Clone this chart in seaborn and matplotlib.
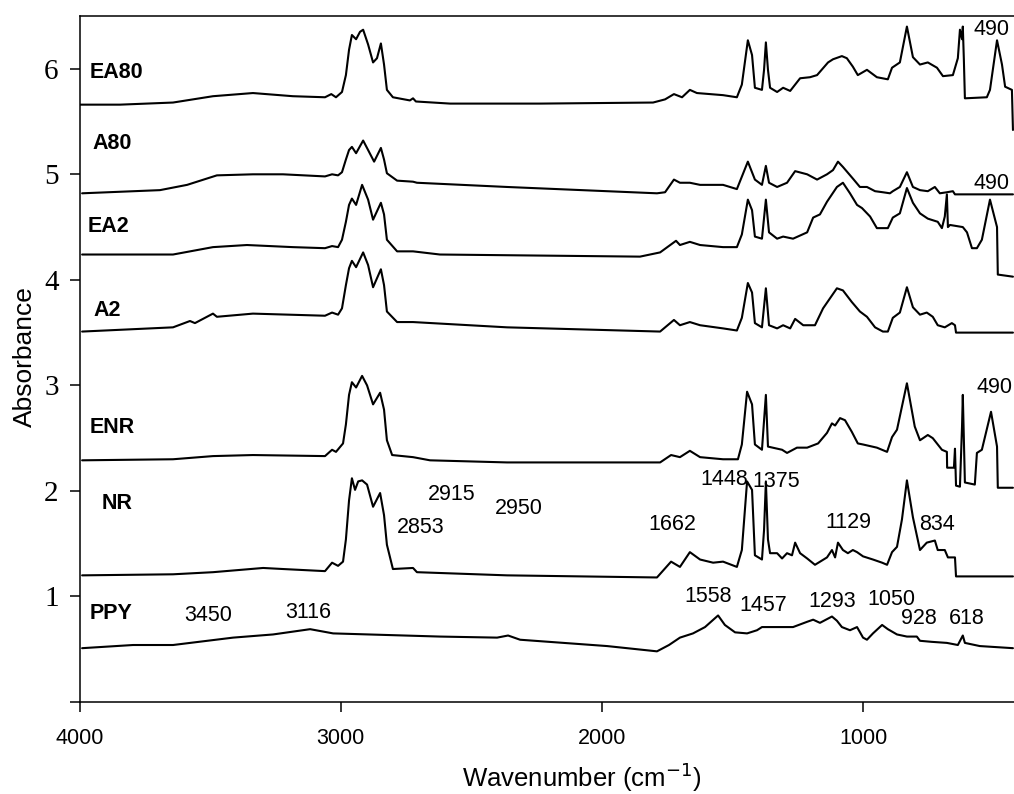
import numpy as np
import pandas as pd
import matplotlib
matplotlib.use("Agg")
import matplotlib.pyplot as plt
import seaborn as sns

# ---------------- data (wavenumber cm-1, absorbance) ----------------
ea80_wn = [4000, 3845, 3642, 3489, 3336, 3183, 3060, 3036, 3018, 2995, 2980, 2968, 2957, 2941, 2926, 2914,
           2895, 2876, 2861, 2846, 2834, 2823, 2800, 2735, 2723, 2712, 2581, 2237, 1804, 1758, 1724, 1693,
           1663, 1636, 1536, 1483, 1464, 1441, 1425, 1414, 1387, 1379, 1372, 1364, 1356, 1329, 1306, 1279,
           1241, 1203, 1176, 1134, 1115, 1081, 1062, 1039, 1020, 985, 947, 905, 889, 859, 832, 809, 782,
           752, 717, 694, 656, 637, 629, 621, 618, 614, 610, 526, 514, 487, 468, 456, 430, 426]
ea80_ab = [5.66, 5.66, 5.68, 5.74, 5.77, 5.74, 5.73, 5.76, 5.73, 5.78, 5.94, 6.18, 6.32, 6.28, 6.35, 6.37,
           6.23, 6.06, 6.10, 6.24, 6.04, 5.80, 5.73, 5.70, 5.72, 5.69, 5.67, 5.67, 5.68, 5.71, 5.76, 5.73,
           5.80, 5.77, 5.75, 5.73, 5.85, 6.27, 6.13, 5.82, 5.80, 5.99, 6.25, 5.99, 5.82, 5.78, 5.82, 5.79,
           5.91, 5.92, 5.94, 6.06, 6.09, 6.12, 6.10, 6.02, 5.94, 5.99, 5.92, 5.90, 6.01, 6.06, 6.40, 6.11, 6.04,
           6.06, 6.01, 5.93, 5.94, 6.10, 6.37, 6.28, 6.40, 6.09, 5.72, 5.73, 5.80, 6.27, 6.04, 5.83, 5.80, 5.42]

a80_wn = [3990, 3692, 3588, 3474, 3336, 3221, 3060, 3033, 3010, 2995, 2980, 2968, 2957, 2941, 2914, 2895,
          2872, 2846, 2834, 2823, 2784, 2723, 2708, 2363, 1789, 1758, 1724, 1701, 1663, 1624, 1536, 1483,
          1441, 1414, 1387, 1372, 1360, 1329, 1291, 1260, 1214, 1176, 1138, 1115, 1096, 1077, 1039, 1012,
          985, 954, 924, 897, 886, 859, 832, 809, 782, 752, 725, 706, 679, 656, 648, 426]
a80_ab = [4.82, 4.85, 4.90, 4.99, 5.00, 5.00, 4.98, 5.00, 4.99, 5.02, 5.14, 5.23, 5.26, 5.20, 5.32, 5.23,
          5.12, 5.25, 5.14, 5.01, 4.94, 4.93, 4.92, 4.88, 4.82, 4.83, 4.95, 4.92, 4.92, 4.90, 4.90, 4.86,
          5.12, 4.95, 4.90, 5.08, 4.92, 4.88, 4.92, 5.03, 5.00, 4.95, 5.00, 5.04, 5.12, 5.07, 4.96, 4.88,
          4.88, 4.84, 4.83, 4.82, 4.84, 4.88, 5.02, 4.88, 4.85, 4.84, 4.88, 4.82, 4.83, 4.84, 4.81, 4.81]

ea2_wn = [3990, 3642, 3489, 3359, 3183, 3060, 3033, 3010, 2995, 2980, 2968, 2957, 2941, 2918, 2895, 2876,
          2846, 2834, 2823, 2784, 2723, 2620, 1854, 1777, 1716, 1701, 1663, 1624, 1536, 1483, 1464, 1441,
          1425, 1414, 1387, 1372, 1360, 1329, 1306, 1268, 1214, 1191, 1165, 1138, 1100, 1077, 1050, 1023,
          1004, 973, 947, 905, 886, 859, 832, 809, 782, 752, 714, 698, 687, 679, 675, 667, 618, 602, 583,
          564, 545, 514, 487, 484, 426]
ea2_ab = [4.24, 4.24, 4.31, 4.33, 4.31, 4.30, 4.32, 4.31, 4.38, 4.55, 4.71, 4.77, 4.71, 4.90, 4.76, 4.57,
          4.73, 4.62, 4.38, 4.27, 4.27, 4.24, 4.22, 4.26, 4.37, 4.33, 4.36, 4.33, 4.31, 4.31, 4.43, 4.76,
          4.66, 4.41, 4.39, 4.76, 4.45, 4.39, 4.41, 4.39, 4.45, 4.59, 4.62, 4.74, 4.88, 4.92, 4.82, 4.71,
          4.68, 4.60, 4.49, 4.49, 4.59, 4.63, 4.87, 4.73, 4.63, 4.58, 4.55, 4.49, 4.60, 4.81, 4.50, 4.52,
          4.50, 4.45, 4.30, 4.30, 4.38, 4.76, 4.50, 4.05, 4.03]

a2_wn = [3990, 3642, 3577, 3558, 3489, 3474, 3336, 3060, 3033, 3010, 2995, 2980, 2968, 2957, 2941, 2914,
         2895, 2876, 2846, 2834, 2823, 2784, 2723, 2363, 1777, 1724, 1701, 1663, 1624, 1536, 1483, 1464,
         1441, 1425, 1414, 1387, 1372, 1360, 1329, 1306, 1279, 1260, 1229, 1184, 1153, 1100, 1077, 1043,
         1012, 985, 954, 924, 905, 886, 859, 832, 809, 782, 756, 733, 714, 687, 660, 648, 644, 426]
a2_ab = [3.51, 3.55, 3.61, 3.59, 3.68, 3.65, 3.68, 3.66, 3.69, 3.67, 3.73, 3.95, 4.11, 4.18, 4.12, 4.26,
         4.14, 3.93, 4.10, 3.95, 3.70, 3.60, 3.60, 3.55, 3.51, 3.62, 3.57, 3.60, 3.57, 3.54, 3.52, 3.64,
         3.97, 3.88, 3.59, 3.55, 3.92, 3.57, 3.54, 3.57, 3.54, 3.63, 3.57, 3.57, 3.73, 3.92, 3.90, 3.79,
         3.70, 3.65, 3.55, 3.51, 3.51, 3.64, 3.69, 3.93, 3.74, 3.67, 3.69, 3.65, 3.57, 3.55, 3.59, 3.57,
         3.50, 3.50]

enr_wn = [3990, 3642, 3489, 3336, 3060, 3033, 3018, 2991, 2980, 2968, 2957, 2941, 2918, 2899, 2876, 2849,
          2834, 2823, 2803, 2723, 2658, 2363, 1777, 1735, 1701, 1663, 1624, 1536, 1479, 1464, 1444, 1425,
          1414, 1387, 1372, 1364, 1310, 1291, 1253, 1214, 1172, 1138, 1119, 1107, 1088, 1069, 1043, 1020,
          1000, 947, 908, 889, 870, 832, 802, 782, 752, 733, 698, 679, 678, 652, 648, 644, 629, 621, 618,
          610, 572, 564, 545, 510, 487, 484, 426]
enr_ab = [2.29, 2.30, 2.33, 2.34, 2.33, 2.39, 2.37, 2.45, 2.63, 2.91, 3.03, 2.98, 3.09, 3.00, 2.82, 2.93,
          2.77, 2.48, 2.34, 2.32, 2.29, 2.27, 2.27, 2.34, 2.32, 2.38, 2.32, 2.30, 2.30, 2.44, 2.94, 2.82,
          2.44, 2.39, 2.91, 2.42, 2.39, 2.36, 2.41, 2.41, 2.45, 2.55, 2.64, 2.62, 2.69, 2.67, 2.56, 2.45,
          2.44, 2.41, 2.37, 2.51, 2.58, 3.02, 2.61, 2.48, 2.53, 2.50, 2.39, 2.37, 2.22, 2.22, 2.40, 2.05,
          2.04, 2.61, 2.91, 2.08, 2.06, 2.36, 2.39, 2.75, 2.42, 2.03, 2.03]

nr_wn = [3990, 3642, 3489, 3297, 3221, 3060, 3033, 3010, 2991, 2980, 2968, 2957, 2945, 2933, 2918, 2899,
         2876, 2849, 2834, 2823, 2800, 2723, 2708, 2363, 1789, 1735, 1701, 1663, 1624, 1574, 1536, 1483,
         1464, 1444, 1425, 1414, 1387, 1379, 1372, 1364, 1356, 1329, 1310, 1291, 1272, 1260, 1241, 1214,
         1184, 1138, 1119, 1107, 1096, 1077, 1058, 1039, 1023, 1000, 962, 927, 908, 889, 870, 851, 832,
         809, 782, 756, 725, 714, 687, 675, 648, 644, 426]
nr_ab = [1.20, 1.21, 1.23, 1.27, 1.26, 1.24, 1.32, 1.29, 1.33, 1.54, 1.91, 2.12, 2.01, 2.09, 2.10, 2.06,
         1.85, 1.98, 1.77, 1.49, 1.26, 1.27, 1.23, 1.20, 1.18, 1.33, 1.28, 1.42, 1.35, 1.32, 1.33, 1.28,
         1.44, 2.09, 2.01, 1.39, 1.35, 1.63, 2.09, 1.54, 1.41, 1.41, 1.36, 1.41, 1.39, 1.51, 1.41, 1.36,
         1.30, 1.37, 1.44, 1.37, 1.51, 1.44, 1.41, 1.44, 1.42, 1.38, 1.35, 1.32, 1.30, 1.42, 1.47, 1.73, 2.10,
         1.75, 1.44, 1.51, 1.53, 1.44, 1.44, 1.37, 1.37, 1.19, 1.19]

ppy_wn = [3990, 3795, 3642, 3412, 3259, 3117, 3029, 2620, 2401, 2359, 2313, 1980, 1789, 1743, 1701, 1651,
          1605, 1555, 1529, 1490, 1444, 1406, 1387, 1329, 1268, 1214, 1191, 1165, 1119, 1100, 1081, 1050,
          1023, 1000, 985, 962, 927, 905, 870, 832, 794, 782, 737, 679, 637, 618, 610, 553, 426]
ppy_ab = [0.51, 0.54, 0.54, 0.61, 0.64, 0.69, 0.65, 0.62, 0.61, 0.63, 0.59, 0.53, 0.48, 0.54, 0.61, 0.65,
          0.71, 0.82, 0.73, 0.66, 0.65, 0.68, 0.71, 0.71, 0.71, 0.76, 0.78, 0.75, 0.81, 0.77, 0.71, 0.68,
          0.71, 0.61, 0.59, 0.65, 0.73, 0.69, 0.64, 0.62, 0.62, 0.58, 0.57, 0.56, 0.54, 0.63, 0.56, 0.53, 0.51]

sample_names = ["EA80", "A80", "EA2", "A2", "ENR", "NR", "PPY"]
sample_label_x = [3960, 3952, 3967, 3948, 3960, 3914, 3960]
sample_label_y = [5.96, 5.29, 4.51, 3.71, 2.60, 1.88, 0.84]

peak_texts = ["490", "490", "490", "2853", "2915", "2950", "1662", "1448", "1375", "1129", "834",
              "3450", "3116", "1558", "1457", "1293", "1050", "928", "618"]
peak_x = [510, 510, 495, 2692, 2574, 2317, 1731, 1533, 1333, 1058, 717,
          3508, 3125, 1594, 1383, 1119, 893, 786, 602]
peak_y = [6.37, 4.91, 2.98, 1.65, 1.97, 1.83, 1.68, 2.11, 2.09, 1.70, 1.68,
          0.82, 0.85, 1.00, 0.91, 0.95, 0.97, 0.79, 0.79]

x_ticks = [4000, 3000, 2000, 1000]
y_ticks = [0, 1, 2, 3, 4, 5, 6]
y_tick_labels = ["", "1", "2", "3", "4", "5", "6"]

# ---------------- plotting ----------------
sns.set_theme(style="ticks")
plt.rcParams['font.family'] = ['Liberation Sans', 'DejaVu Sans']
plt.rcParams['axes.linewidth'] = 1.1
plt.rcParams['text.color'] = 'black'
plt.rcParams['axes.labelcolor'] = 'black'
plt.rcParams['xtick.color'] = 'black'
plt.rcParams['ytick.color'] = 'black'
plt.rcParams['axes.edgecolor'] = 'black'

traces = {
    "EA80": (ea80_wn, ea80_ab), "A80": (a80_wn, a80_ab), "EA2": (ea2_wn, ea2_ab),
    "A2": (a2_wn, a2_ab), "ENR": (enr_wn, enr_ab), "NR": (nr_wn, nr_ab), "PPY": (ppy_wn, ppy_ab),
}

fig = plt.figure(figsize=(10.14, 7.94), dpi=100)
fig.patch.set_facecolor("white")
ax = fig.add_axes([79.5 / 1014, (794 - 702) / 794, (1014 - 79.5) / 1014, (702 - 16) / 794])

for name in sample_names:
    wn, ab = traces[name]
    df = pd.DataFrame({"wn": wn, "ab": ab})
    sns.lineplot(data=df, x="wn", y="ab", ax=ax, color="black", linewidth=1.5,
                 estimator=None, sort=False, legend=False)

ax.set_xlim(4000, 422)
ax.set_ylim(0, 6.5)
ax.set_xticks(x_ticks)
ax.set_xticklabels([str(t) for t in x_ticks])
ax.set_yticks(y_ticks)
ax.set_yticklabels(y_tick_labels)
for lbl in ax.get_yticklabels():
    lbl.set_fontfamily("Liberation Serif")
    lbl.set_fontsize(21)
ax.tick_params(axis="both", direction="out", length=7, width=1.1, color="black", labelcolor="black")
ax.tick_params(axis="x", pad=12, labelsize=15.5)
ax.tick_params(axis="y", pad=8)
ax.spines["right"].set_visible(False)
for s in ["left", "top", "bottom"]:
    ax.spines[s].set_color("black")

ax.set_xlabel("Wavenumber (cm$^{-1}$)", fontsize=18.5, color="black")
ax.xaxis.label.set_va("center")
ax.xaxis.set_label_coords((582 - 79.5) / 934.5, (702 - 777) / 686)
ax.set_ylabel("Absorbance", fontsize=19, color="black")
ax.yaxis.label.set_va("center")
ax.yaxis.label.set_ha("center")
ax.yaxis.set_label_coords((25 - 79.5) / 934.5, (702 - 357) / 686)

for n, lx, ly in zip(sample_names, sample_label_x, sample_label_y):
    ax.text(lx, ly, n, fontsize=15.5, fontweight="bold", ha="left", va="center", color="black")

for t, px, py in zip(peak_texts, peak_x, peak_y):
    ax.text(px, py, t, fontsize=15.5, ha="center", va="center", color="black")

fig.savefig("out.png", dpi=100, facecolor="white")
